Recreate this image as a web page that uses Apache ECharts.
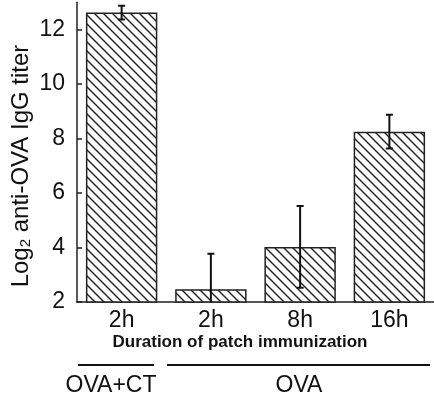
<!DOCTYPE html>
<html><head><meta charset="utf-8">
<script src="https://cdn.jsdelivr.net/npm/echarts@6/dist/echarts.min.js"></script>
<style>html,body{margin:0;padding:0;background:#fff}#c{width:434px;height:402px}</style>
</head><body><div id="c"></div>
<script>
var categories = ['2h', '2h', '8h', '16h'];
var means = [12.62, 2.47, 4.02, 8.25];
var errors = [0.25, 1.3, 1.5, 0.62];
var yTicks = [2, 4, 6, 8, 10, 12];
var groupLabels = ['OVA+CT', 'OVA'];

function hatch() {
  var s = 9, cv = document.createElement('canvas');
  cv.width = s; cv.height = s;
  var g = cv.getContext('2d');
  g.fillStyle = '#fff'; g.fillRect(0, 0, s, s);
  g.strokeStyle = '#222'; g.lineWidth = 1.4;
  [-s, 0, s].forEach(function (k) {
    g.beginPath(); g.moveTo(k - 1, -1); g.lineTo(k + s + 1, s + 1); g.stroke();
  });
  return cv;
}

var chart = echarts.init(document.getElementById('c'), null, {renderer: 'canvas'});
var font = 'Liberation Sans, Arial, sans-serif';
chart.setOption({
  animation: false,
  backgroundColor: '#fff',
  grid: {left: 77, top: 2.25, width: 360, height: 299.75},
  xAxis: {
    type: 'category', data: categories,
    axisLine: {lineStyle: {color: '#222', width: 1.5}},
    axisTick: {inside: true, length: 3, lineStyle: {color: '#222', width: 1.5}},
    axisLabel: {color: '#111', fontSize: 23, fontFamily: font, margin: 7}
  },
  yAxis: {
    type: 'value', min: 2, max: 13,
    splitLine: {show: false},
    axisLine: {show: true, lineStyle: {color: '#222', width: 1.5}},
    axisTick: {show: true, inside: true, length: 5, customValues: yTicks, lineStyle: {color: '#222', width: 1.5}},
    axisLabel: {color: '#111', fontSize: 23, fontFamily: font, margin: 12, customValues: yTicks}
  },
  series: [{
    type: 'bar', data: means, barWidth: '80%',
    itemStyle: {color: {image: hatch(), repeat: 'repeat'}, borderColor: '#222', borderWidth: 1.5}
  }, {
    type: 'custom', clip: true,
    data: means.map(function (m, i) { return [i, m - errors[i], m + errors[i]]; }),
    renderItem: function (params, api) {
      var i = api.value(0);
      var lo = api.coord([i, api.value(1)]);
      var hi = api.coord([i, api.value(2)]);
      var w = 3.5;
      var st = {stroke: '#111', lineWidth: 2};
      return {type: 'group', children: [
        {type: 'line', shape: {x1: hi[0], y1: hi[1], x2: lo[0], y2: lo[1]}, style: st},
        {type: 'line', shape: {x1: hi[0] - w, y1: hi[1], x2: hi[0] + w, y2: hi[1]}, style: st},
        {type: 'line', shape: {x1: lo[0] - w, y1: lo[1], x2: lo[0] + w, y2: lo[1]}, style: st}
      ]};
    },
    z: 5
  }],
  graphic: [
    {type: 'text', x: 19, y: 166, rotation: Math.PI / 2,
      style: {text: '{a|Log}{s|2}{a| anti-OVA IgG titer}', align: 'center', verticalAlign: 'middle',
        rich: {a: {fontSize: 24, fontFamily: font, fill: '#111', lineHeight: 28, verticalAlign: 'bottom'},
               s: {fontSize: 15, fontFamily: font, fill: '#111', lineHeight: 22, verticalAlign: 'bottom'}}}},
    {type: 'text', x: 240, y: 342,
      style: {text: 'Duration of patch immunization', fontSize: 17, fontWeight: 'bold', fontFamily: font, fill: '#111', align: 'center', verticalAlign: 'middle'}},
    {type: 'line', shape: {x1: 78, y1: 365, x2: 154, y2: 365}, style: {stroke: '#111', lineWidth: 2}},
    {type: 'line', shape: {x1: 167, y1: 365, x2: 430, y2: 365}, style: {stroke: '#111', lineWidth: 2}},
    {type: 'text', x: 111, y: 386,
      style: {text: groupLabels[0], fontSize: 23, fontFamily: font, fill: '#111', align: 'center', verticalAlign: 'middle'}},
    {type: 'text', x: 299, y: 386,
      style: {text: groupLabels[1], fontSize: 23, fontFamily: font, fill: '#111', align: 'center', verticalAlign: 'middle'}}
  ]
});
</script></body></html>
